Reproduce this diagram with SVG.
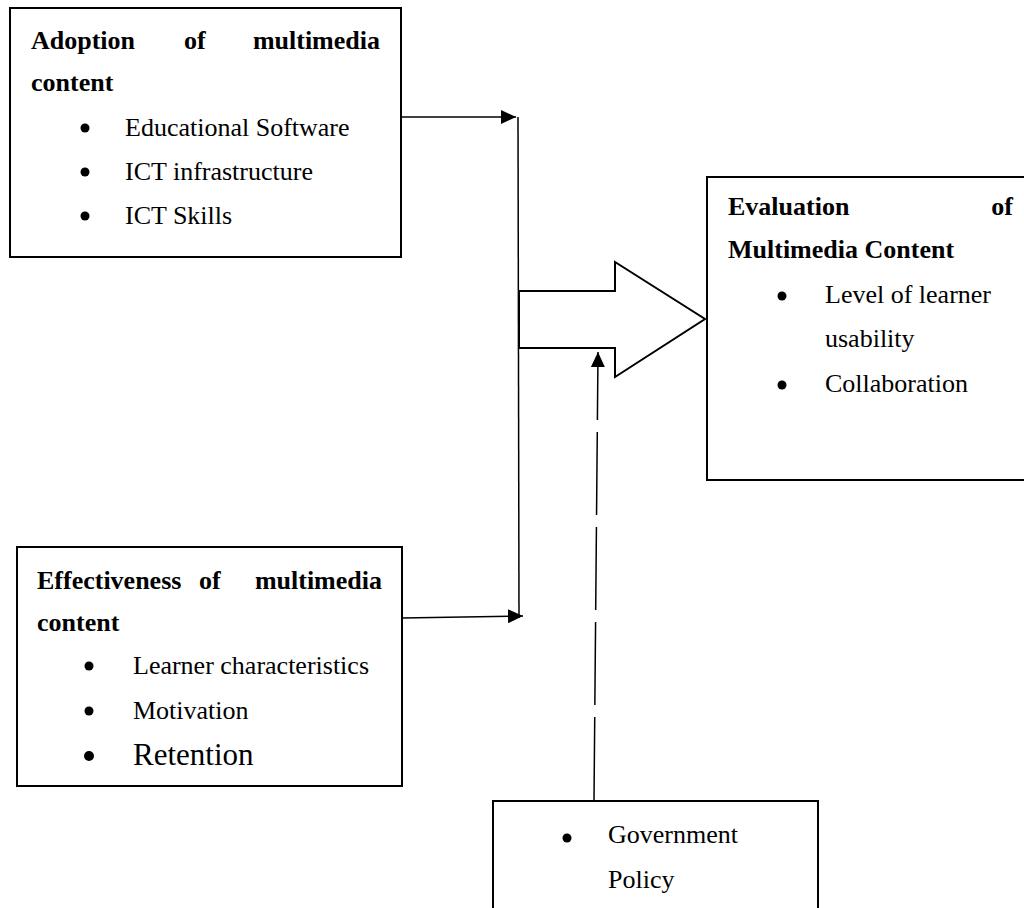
<svg xmlns="http://www.w3.org/2000/svg" width="1024" height="908" viewBox="0 0 1024 908">
<defs>
<style>
.box{fill:#fff;stroke:#000;stroke-width:2}
.t{font-size:26px;fill:#000}
.b{font-weight:bold}
.ln{fill:none;stroke:#000;stroke-width:1.5}
.dot{fill:#000}
</style>
<marker id="ah" markerWidth="16" markerHeight="14" refX="15" refY="7" orient="auto" markerUnits="userSpaceOnUse">
<path d="M0,0 L15,7 L0,14 Z" fill="#000"/>
</marker>
</defs>
<rect width="1024" height="908" fill="#fff"/>

<g id="connectors">
<line class="ln" x1="401" y1="117" x2="516" y2="117" marker-end="url(#ah)"/>
<line class="ln" x1="518" y1="117" x2="519" y2="618"/>
<line class="ln" x1="402" y1="618" x2="523" y2="616" marker-end="url(#ah)"/>
<path class="ln" d="M594,800 L598,352" stroke-dasharray="83 12" marker-end="url(#ah)"/>
<path d="M519,291 L615,291 L615,262 L705,319 L615,377 L615,348 L519,348 Z" fill="#fff" stroke="#000" stroke-width="2"/>
</g>

<g font-family="'Liberation Serif', 'Times New Roman', 'DejaVu Serif', serif">
<g id="adoption">
<rect class="box" x="10" y="8" width="391" height="249"/>
<text class="t b" x="31" y="49">Adoption</text>
<text class="t b" x="184" y="49">of</text>
<text class="t b" x="380" y="49" text-anchor="end">multimedia</text>
<text class="t b" x="31" y="91">content</text>
<circle class="dot" cx="85" cy="128" r="4.5"/>
<text class="t" x="125" y="136">Educational Software</text>
<circle class="dot" cx="85" cy="172" r="4.5"/>
<text class="t" x="125" y="180">ICT infrastructure</text>
<circle class="dot" cx="85" cy="216" r="4.5"/>
<text class="t" x="125" y="224">ICT Skills</text>
</g>

<g id="effectiveness">
<rect class="box" x="17" y="547" width="385" height="239"/>
<text class="t b" x="37" y="589">Effectiveness</text>
<text class="t b" x="199" y="589">of</text>
<text class="t b" x="382" y="589" text-anchor="end">multimedia</text>
<text class="t b" x="37" y="631">content</text>
<circle class="dot" cx="89" cy="666" r="4.5"/>
<text class="t" x="133" y="674">Learner characteristics</text>
<circle class="dot" cx="89" cy="711" r="4.5"/>
<text class="t" x="133" y="719">Motivation</text>
<circle class="dot" cx="89" cy="756" r="5"/>
<text class="t" x="133" y="765" style="font-size:31px">Retention</text>
</g>

<g id="evaluation">
<rect class="box" x="707" y="177" width="330" height="303"/>
<text class="t b" x="728" y="215">Evaluation</text>
<text class="t b" x="1013" y="215" text-anchor="end">of</text>
<text class="t b" x="728" y="258">Multimedia Content</text>
<circle class="dot" cx="782" cy="296" r="4.5"/>
<text class="t" x="825" y="303">Level of learner</text>
<text class="t" x="825" y="347">usability</text>
<circle class="dot" cx="782" cy="385" r="4.5"/>
<text class="t" x="825" y="392">Collaboration</text>
</g>

<g id="government">
<rect class="box" x="493" y="801" width="325" height="120"/>
<circle class="dot" cx="567" cy="838" r="4.5"/>
<text class="t" x="608" y="843">Government</text>
<text class="t" x="608" y="888">Policy</text>
</g>
</g>
</svg>
